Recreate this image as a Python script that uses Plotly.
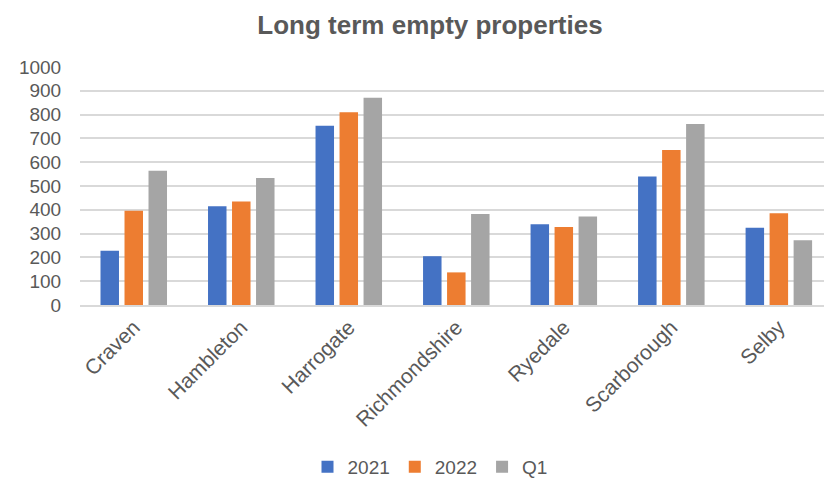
import plotly.graph_objects as go

districts = ["Craven", "Hambleton", "Harrogate", "Richmondshire", "Ryedale", "Scarborough", "Selby"]
y2021 = [228, 415, 753, 205, 339, 540, 325]
y2022 = [396, 435, 810, 137, 328, 651, 386]
q1 = [564, 534, 871, 382, 372, 761, 272]
y_ticks = [0, 100, 200, 300, 400, 500, 600, 700, 800, 900, 1000]

series = [("2021", y2021, "#4472C4"), ("2022", y2022, "#ED7D31"), ("Q1", q1, "#A5A5A5")]

fig = go.Figure()
for name, vals, color in series:
    fig.add_trace(go.Bar(
        name=name, x=districts, y=vals,
        marker=dict(color=color, line=dict(width=0)),
    ))

font_grey = "#595959"
fig.update_layout(
    width=824, height=479,
    paper_bgcolor="white", plot_bgcolor="white",
    margin=dict(l=80, r=0, t=67, b=174),
    barmode="group", bargap=0.33, bargroupgap=0.23,
    font=dict(family="Liberation Sans, Arial, sans-serif", color=font_grey, size=18),
    title=dict(text="<b>Long term empty properties</b>", x=430 / 824, xanchor="center",
               xref="container", y=1 - 25 / 479, yanchor="middle", yref="container",
               font=dict(size=26, color=font_grey)),
    legend=dict(orientation="h", xref="container", yref="container",
                x=430 / 824, xanchor="center", y=1 - 467 / 479, yanchor="middle",
                font=dict(size=19, color=font_grey), itemwidth=30,
                traceorder="normal"),
    xaxis=dict(range=[-0.5, 6.42], tickangle=-45, showgrid=False,
               showline=True, linecolor="#D9D9D9", linewidth=1.5,
               tickfont=dict(size=21, color=font_grey), ticks=""),
    yaxis=dict(range=[0, 1000], tickvals=y_ticks, showgrid=True,
               gridcolor="#D9D9D9", gridwidth=1.5, zeroline=False,
               ticks="outside", ticklen=14, tickcolor="rgba(0,0,0,0)",
               tickfont=dict(size=19, color=font_grey)),
)

fig.write_html("out.html")
